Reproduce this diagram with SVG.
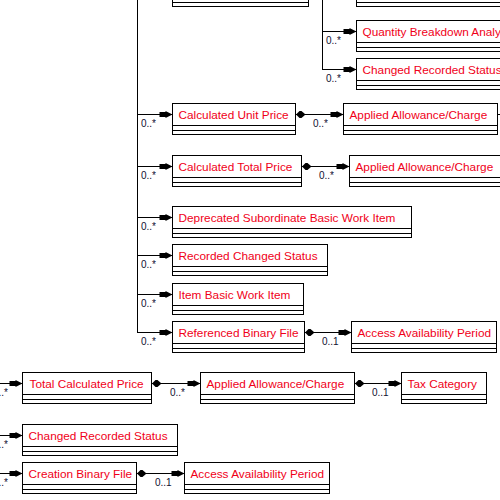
<svg xmlns="http://www.w3.org/2000/svg" width="500" height="500" viewBox="0 0 500 500">
<style>
.box rect{fill:#fff;stroke:#000;stroke-width:1;shape-rendering:crispEdges}
.box line{stroke:#000;stroke-width:1;shape-rendering:crispEdges}
.nm{font-family:"Liberation Sans",Arial,sans-serif;font-size:11.8px;fill:#f00018}
.cn line,.cn polyline{stroke:#000;stroke-width:1;fill:none;shape-rendering:crispEdges}
.ml{font-family:"Liberation Sans",Arial,sans-serif;font-size:10px;fill:#101030}
</style>
<defs>
<path id="arr" d="M0,0 L-7,-3.5 L-7,-2.5 L-13,-2.5 L-13,2.5 L-7,2.5 L-7,3.5 Z" fill="#000"/>
<path id="dia" d="M0.5,0 L4,-3.5 L6,-3.5 L10,0 L6,3.5 L4,3.5 Z" fill="#000"/>
</defs>
<rect width="500" height="500" fill="#fff"/>

<g class="cn" id="connectors">
<line x1="137.5" y1="0" x2="137.5" y2="332.5"/>
<line x1="137.5" y1="114.5" x2="172.5" y2="114.5"/>
<line x1="137.5" y1="166.5" x2="172.5" y2="166.5"/>
<line x1="137.5" y1="217.5" x2="172.5" y2="217.5"/>
<line x1="137.5" y1="255.5" x2="172.5" y2="255.5"/>
<line x1="137.5" y1="294.5" x2="172.5" y2="294.5"/>
<line x1="137.5" y1="332.5" x2="172.5" y2="332.5"/>
<use href="#arr" x="172.5" y="114.5"/>
<use href="#arr" x="172.5" y="166.5"/>
<use href="#arr" x="172.5" y="217.5"/>
<use href="#arr" x="172.5" y="255.5"/>
<use href="#arr" x="172.5" y="294.5"/>
<use href="#arr" x="172.5" y="332.5"/>
<text class="ml" x="141" y="127">0..*</text>
<text class="ml" x="141" y="179">0..*</text>
<text class="ml" x="141" y="230">0..*</text>
<text class="ml" x="141" y="268">0..*</text>
<text class="ml" x="141" y="307">0..*</text>
<text class="ml" x="141" y="345">0..*</text>

<line x1="322.5" y1="0" x2="322.5" y2="69.5"/>
<line x1="322.5" y1="31.5" x2="356.5" y2="31.5"/>
<line x1="322.5" y1="69.5" x2="356.5" y2="69.5"/>
<use href="#arr" x="356.5" y="31.5"/>
<use href="#arr" x="356.5" y="69.5"/>
<text class="ml" x="326" y="44">0..*</text>
<text class="ml" x="326" y="82">0..*</text>

<line x1="295.5" y1="114.5" x2="343.5" y2="114.5"/>
<use href="#dia" x="295.5" y="114.5"/>
<use href="#arr" x="343.5" y="114.5"/>
<text class="ml" x="313" y="127">0..*</text>
<line x1="497.5" y1="114.5" x2="500" y2="114.5"/>

<line x1="301.5" y1="166.5" x2="349.5" y2="166.5"/>
<use href="#dia" x="301.5" y="166.5"/>
<use href="#arr" x="349.5" y="166.5"/>
<text class="ml" x="319" y="179">0..*</text>

<line x1="304.5" y1="332.5" x2="351.5" y2="332.5"/>
<use href="#dia" x="304.5" y="332.5"/>
<use href="#arr" x="351.5" y="332.5"/>
<text class="ml" x="322" y="345">0..1</text>

<line x1="0" y1="383.5" x2="22.5" y2="383.5"/>
<line x1="0" y1="435.5" x2="22.5" y2="435.5"/>
<line x1="0" y1="473.5" x2="22.5" y2="473.5"/>
<use href="#arr" x="22.5" y="383.5"/>
<use href="#arr" x="22.5" y="435.5"/>
<use href="#arr" x="22.5" y="473.5"/>
<text class="ml" x="-7" y="396">0..*</text>
<text class="ml" x="-7" y="448">0..*</text>
<text class="ml" x="-7" y="486">0..*</text>

<line x1="151.5" y1="383.5" x2="200.5" y2="383.5"/>
<use href="#dia" x="151.5" y="383.5"/>
<use href="#arr" x="200.5" y="383.5"/>
<text class="ml" x="170" y="396">0..*</text>

<line x1="354.5" y1="383.5" x2="401.5" y2="383.5"/>
<use href="#dia" x="354.5" y="383.5"/>
<use href="#arr" x="401.5" y="383.5"/>
<text class="ml" x="372" y="396">0..1</text>

<line x1="136.5" y1="473.5" x2="184.5" y2="473.5"/>
<use href="#dia" x="136.5" y="473.5"/>
<use href="#arr" x="184.5" y="473.5"/>
<text class="ml" x="155" y="486">0..1</text>
</g>

<g class="box" id="top-left-box" transform="translate(172.5,-24.5)">
<rect width="136" height="31"/><line x1="0" y1="22" x2="136" y2="22"/><line x1="0" y1="27" x2="136" y2="27"/>
</g>
<g class="box" id="top-right-box" transform="translate(356.5,-24.5)">
<rect width="160" height="31"/><line x1="0" y1="22" x2="160" y2="22"/><line x1="0" y1="27" x2="160" y2="27"/>
</g>
<g class="box" id="quantity-breakdown" transform="translate(356.5,20.5)">
<rect width="160" height="31"/><line x1="0" y1="22" x2="160" y2="22"/><line x1="0" y1="27" x2="160" y2="27"/>
<text class="nm" x="6" y="15.5">Quantity Breakdown Analysis</text>
</g>
<g class="box" id="changed-recorded-status-top" transform="translate(356.5,58.5)">
<rect width="160" height="31"/><line x1="0" y1="22" x2="160" y2="22"/><line x1="0" y1="27" x2="160" y2="27"/>
<text class="nm" x="6" y="15.5">Changed Recorded Status</text>
</g>
<g class="box" id="calculated-unit-price" transform="translate(172.5,103.5)">
<rect width="123" height="31"/><line x1="0" y1="22" x2="123" y2="22"/><line x1="0" y1="27" x2="123" y2="27"/>
<text class="nm" x="6" y="15.5">Calculated Unit Price</text>
</g>
<g class="box" id="applied-allowance-1" transform="translate(343.5,103.5)">
<rect width="154" height="31"/><line x1="0" y1="22" x2="154" y2="22"/><line x1="0" y1="27" x2="154" y2="27"/>
<text class="nm" x="6" y="15.5">Applied Allowance/Charge</text>
</g>
<g class="box" id="calculated-total-price" transform="translate(172.5,155.5)">
<rect width="129" height="31"/><line x1="0" y1="22" x2="129" y2="22"/><line x1="0" y1="27" x2="129" y2="27"/>
<text class="nm" x="6" y="15.5">Calculated Total Price</text>
</g>
<g class="box" id="applied-allowance-2" transform="translate(349.5,155.5)">
<rect width="154" height="31"/><line x1="0" y1="22" x2="154" y2="22"/><line x1="0" y1="27" x2="154" y2="27"/>
<text class="nm" x="6" y="15.5">Applied Allowance/Charge</text>
</g>
<g class="box" id="deprecated-subordinate" transform="translate(172.5,206.5)">
<rect width="239" height="31"/><line x1="0" y1="22" x2="239" y2="22"/><line x1="0" y1="27" x2="239" y2="27"/>
<text class="nm" x="6" y="15.5">Deprecated Subordinate Basic Work Item</text>
</g>
<g class="box" id="recorded-changed-status" transform="translate(172.5,244.5)">
<rect width="155" height="31"/><line x1="0" y1="22" x2="155" y2="22"/><line x1="0" y1="27" x2="155" y2="27"/>
<text class="nm" x="6" y="15.5">Recorded Changed Status</text>
</g>
<g class="box" id="item-basic-work-item" transform="translate(172.5,283.5)">
<rect width="131" height="31"/><line x1="0" y1="22" x2="131" y2="22"/><line x1="0" y1="27" x2="131" y2="27"/>
<text class="nm" x="6" y="15.5">Item Basic Work Item</text>
</g>
<g class="box" id="referenced-binary-file" transform="translate(172.5,321.5)">
<rect width="132" height="31"/><line x1="0" y1="22" x2="132" y2="22"/><line x1="0" y1="27" x2="132" y2="27"/>
<text class="nm" x="6" y="15.5">Referenced Binary File</text>
</g>
<g class="box" id="access-availability-1" transform="translate(351.5,321.5)">
<rect width="145" height="31"/><line x1="0" y1="22" x2="145" y2="22"/><line x1="0" y1="27" x2="145" y2="27"/>
<text class="nm" x="6" y="15.5">Access Availability Period</text>
</g>
<g class="box" id="total-calculated-price" transform="translate(22.5,372.5)">
<rect width="129" height="31"/><line x1="0" y1="22" x2="129" y2="22"/><line x1="0" y1="27" x2="129" y2="27"/>
<text class="nm" x="7" y="15.5">Total Calculated Price</text>
</g>
<g class="box" id="applied-allowance-3" transform="translate(200.5,372.5)">
<rect width="154" height="31"/><line x1="0" y1="22" x2="154" y2="22"/><line x1="0" y1="27" x2="154" y2="27"/>
<text class="nm" x="6" y="15.5">Applied Allowance/Charge</text>
</g>
<g class="box" id="tax-category" transform="translate(401.5,372.5)">
<rect width="85" height="31"/><line x1="0" y1="22" x2="85" y2="22"/><line x1="0" y1="27" x2="85" y2="27"/>
<text class="nm" x="6" y="15.5">Tax Category</text>
</g>
<g class="box" id="changed-recorded-status-bottom" transform="translate(22.5,424.5)">
<rect width="155" height="31"/><line x1="0" y1="22" x2="155" y2="22"/><line x1="0" y1="27" x2="155" y2="27"/>
<text class="nm" x="6" y="15.5">Changed Recorded Status</text>
</g>
<g class="box" id="creation-binary-file" transform="translate(22.5,462.5)">
<rect width="114" height="31"/><line x1="0" y1="22" x2="114" y2="22"/><line x1="0" y1="27" x2="114" y2="27"/>
<text class="nm" x="6" y="15.5">Creation Binary File</text>
</g>
<g class="box" id="access-availability-2" transform="translate(184.5,462.5)">
<rect width="145" height="31"/><line x1="0" y1="22" x2="145" y2="22"/><line x1="0" y1="27" x2="145" y2="27"/>
<text class="nm" x="6" y="15.5">Access Availability Period</text>
</g>
</svg>
